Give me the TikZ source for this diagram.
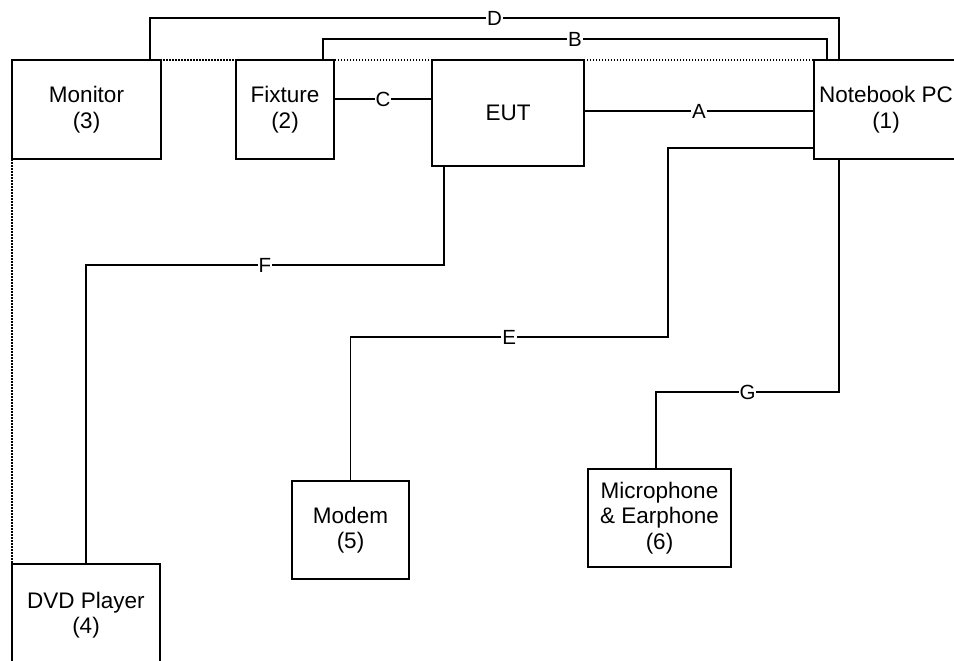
\documentclass[tikz,border=0pt]{standalone}
\usepackage{fontspec}
\setmainfont{Liberation Sans}
\usetikzlibrary{positioning, calc}

\begin{document}
\begin{tikzpicture}[
    x=1pt, y=-1pt,
    unit/.style={rectangle, draw, line width=2pt, inner sep=0pt, align=center, font=\fontsize{22.5}{25.5}\selectfont},
    wire/.style={line width=1.8pt},
    lbl/.style={fill=white, inner sep=1pt, font=\fontsize{20.5}{22}\selectfont},
    frame/.style={line width=1.6pt, dash pattern=on 1.5pt off 1.5pt}
]
\useasboundingbox (0,0) rectangle (954,661);
\clip (0,0) rectangle (954,661);
\draw[frame] (954,60) -| (12,661);

\node[unit, minimum width=149pt, minimum height=99pt] (mon) at (86.5,109.5) {Monitor\\(3)};
\node[unit, minimum width=98pt, minimum height=99pt] (fix) at (285,109.5) {Fixture\\(2)};
\node[unit, minimum width=152pt, minimum height=106pt] (eut) at (508,113) {EUT};
\node[unit, minimum width=144pt, minimum height=99pt] (nb) at (886,109.5) {Notebook PC\\(1)};
\node[unit, minimum width=148pt, minimum height=102pt] (dvd) at (86,615) {DVD Player\\(4)};
\node[unit, minimum width=117pt, minimum height=98pt] (mod) at (350.5,530) {Modem\\(5)};
\node[unit, minimum width=143pt, minimum height=98pt] (mic) at (659.5,518) {Microphone\\\& Earphone\\(6)};

\draw[wire] ([xshift=-12pt]mon.north east) -- ++(0,-41) -| ([xshift=26pt]nb.north west) node[lbl, pos=0.25] {D};
\draw[wire] ([xshift=-12pt]fix.north east) -- ++(0,-20) -| ([xshift=14pt]nb.north west) node[lbl, pos=0.25] {B};
\draw[wire] ([yshift=10.5pt]fix.east) -- ([yshift=10.5pt]eut.west |- fix.east) node[lbl, midway] {C};
\draw[wire] ([yshift=2pt]eut.east) -- ([yshift=2pt]nb.west |- eut.east) node[lbl, midway] {A};
\draw[wire] ([yshift=-38.5pt]nb.west) -| (668,337) -| (mod.north) node[lbl, pos=0.25] {E};
\draw[wire] ([xshift=13pt]eut.south west) -- ++(0,98) -| (dvd.north) node[lbl, pos=0.25] {F};
\draw[wire] ([xshift=26pt]nb.south west) -- ++(0,232) -| ([xshift=-3.5pt]mic.north) node[lbl, pos=0.25] {G};
\end{tikzpicture}
\end{document}
